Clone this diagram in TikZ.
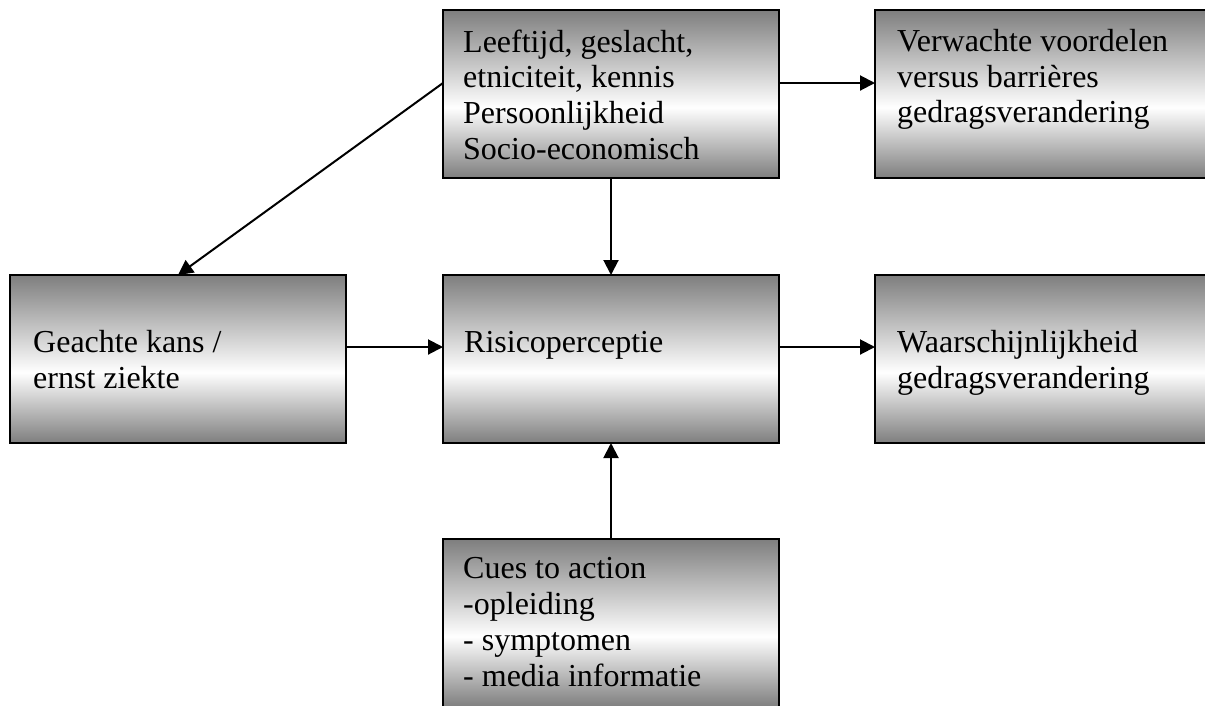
\documentclass[tikz,border=0pt]{standalone}
\usepackage{fontspec}
\setmainfont{Liberation Serif}
\usetikzlibrary{arrows.meta}
\definecolor{edgegray}{RGB}{126,126,126}
\pgfdeclareverticalshading{boxshade}{100bp}{color(0bp)=(edgegray); color(25bp)=(edgegray); color(46bp)=(white); color(75bp)=(edgegray); color(100bp)=(edgegray)}
\tikzset{
  box/.style={draw=black, line width=2pt, shading=boxshade, minimum width=336pt, minimum height=168pt, inner sep=0pt, outer sep=0pt},
  txt/.style={anchor=base west, align=left, inner sep=0pt, font=\fontsize{32pt}{35.8pt}\selectfont},
  arr/.style={line width=2pt, -{Triangle[length=15pt,width=15pt]}}
}
\begin{document}
\begin{tikzpicture}[x=1pt,y=1pt]
\useasboundingbox (0,0) rectangle (1205,-705);
\clip (0,0) rectangle (1205,-705);
% boxes
\node[box] (top) at (611,-94) {};
\node[box] (tr) at (1043,-94) {};
\node[box] (left) at (178,-359) {};
\node[box] (mid) at (611,-359) {};
\node[box] (right) at (1043,-359) {};
\node[box] (bot) at (611,-623) {};
% texts (anchored at the baseline of their last line)
\node[txt] (toptext) at (463,-159.4) {Leeftijd, geslacht,\\etniciteit, kennis\\Persoonlijkheid\\Socio-economisch};
\node[txt] (trtext) at (897,-122.8) {Verwachte voordelen\\versus barrières\\gedragsverandering};
\node[txt] (lefttext) at (33,-388) {Geachte kans /\\ernst ziekte};
\node[txt] (midtext) at (464,-352) {Risicoperceptie};
\node[txt] (righttext) at (897,-388) {Waarschijnlijkheid\\gedragsverandering};
\node[txt] (bottext) at (463,-686) {Cues to action\\-opleiding\\- symptomen\\- media informatie};
% connectors
\draw[arr] ([yshift=11pt]top.west) -- (left.north);
\draw[arr] ([yshift=11pt]top.east) -- ([yshift=11pt]tr.west);
\draw[arr] (top.south) -- (mid.north);
\draw[arr] ([yshift=12pt]left.east) -- ([yshift=12pt]mid.west);
\draw[arr] ([yshift=12pt]mid.east) -- ([yshift=12pt]right.west);
\draw[arr] (bot.north) -- (mid.south);
\end{tikzpicture}
\end{document}
